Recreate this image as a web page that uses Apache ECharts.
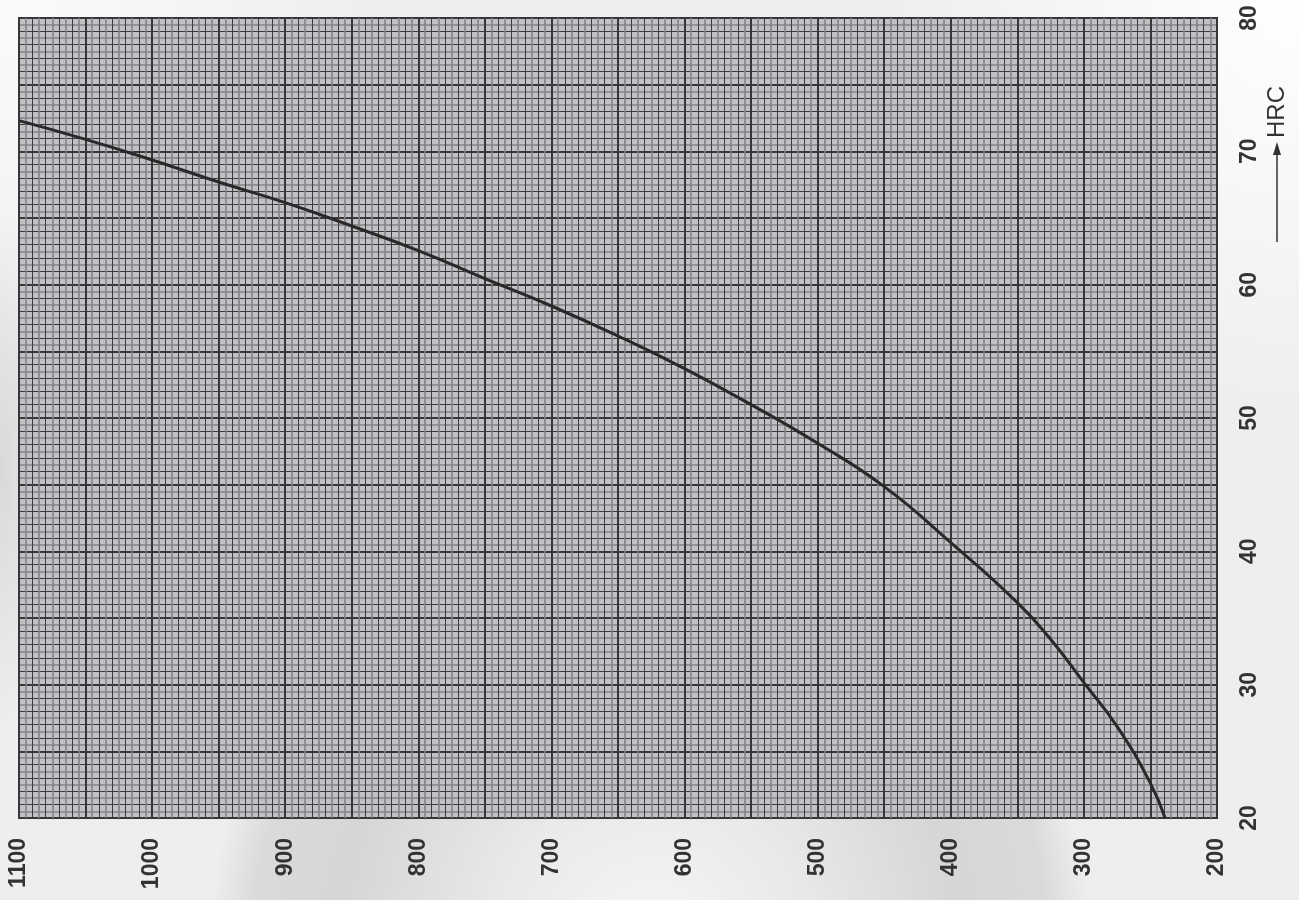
<!DOCTYPE html>
<html>
<head>
<meta charset="utf-8">
<script src="https://cdn.jsdelivr.net/npm/echarts@6/dist/echarts.min.js"></script>
<style>
  html, body { margin: 0; padding: 0; }
  body {
    width: 1299px; height: 900px; overflow: hidden;
    background:
      radial-gradient(circle 440px at 650px 940px, #f6f6f7 0%, #e9e9eb 35%, #d6d6d8 70%, #dadadc 90%, rgba(236,238,240,0) 100%),
      radial-gradient(ellipse 60px 260px at 0px 470px, #d9d9db 0%, rgba(217,217,219,0) 100%),
      radial-gradient(circle 420px at 1299px 0px, #ffffff 0%, rgba(255,255,255,0) 100%),
      radial-gradient(circle 380px at 0px 0px, #fbfbfb 0%, rgba(251,251,251,0) 100%),
      #eceef0;
  }
  #chart { width: 1299px; height: 900px; }
</style>
</head>
<body>
<div id="chart"></div>
<script>
// Vickers hardness (HV) on x, Rockwell C (HRC) on y
const hv  = [1100, 1050, 1000, 950, 900, 850, 800, 750, 700, 650, 600, 550, 500, 450, 400, 350, 325, 300, 275, 250, 239];
const hrc = [72.3, 70.9, 69.35, 67.7, 66.15, 64.4, 62.55, 60.45, 58.4, 56.15, 53.7, 51.0, 48.1, 44.85, 40.65, 36.15, 33.4, 30.15, 26.85, 22.6, 20.0];

const hvLabels  = [1100, 1000, 900, 800, 700, 600, 500, 400, 300, 200];
const hrcLabels = [20, 30, 40, 50, 60, 70, 80];

const COLORS = {
  plot:  '#c0c1c5',
  minor: '#838387',
  fine:  '#3e3a3c',
  major: '#3a3638',
  curve: '#2c282a',
  text:  '#333333',
};

const FONT = '"Liberation Sans", Arial, sans-serif';

const chart = echarts.init(document.getElementById('chart'), null, { renderer: 'canvas' });

const hidden = { axisLine: { show: false }, axisTick: { show: false }, axisLabel: { show: false } };

const option = {
  backgroundColor: 'transparent',
  animation: false,
  grid: {
    left: 19, right: 82, top: 18, bottom: 82,
    show: true,
    backgroundColor: COLORS.plot,
    borderColor: COLORS.major,
    borderWidth: 2,
  },
  xAxis: [
    {
      type: 'value', min: 200, max: 1100, interval: 10, inverse: true, ...hidden,
      splitLine: { show: false },
      minorTick: { show: false, splitNumber: 2 },
      minorSplitLine: { show: true, lineStyle: { color: COLORS.minor, width: 1.6 } },
    },
    {
      type: 'value', min: 200, max: 1100, interval: 10, inverse: true, ...hidden,
      splitLine: { show: true, lineStyle: { color: COLORS.fine, width: 1 } },
    },
    {
      type: 'value', min: 200, max: 1100, interval: 50, inverse: true, position: 'bottom',
      axisLine: { show: false },
      axisTick: { show: false },
      splitLine: { show: true, lineStyle: { color: COLORS.major, width: 2 } },
      axisLabel: {
        rotate: 90,
        margin: 20,
        color: COLORS.text,
        fontFamily: FONT,
        fontWeight: 'bold',
        fontSize: 23,
        formatter: (v) => (hvLabels.includes(v) ? String(v) : ''),
      },
    },
  ],
  yAxis: [
    {
      type: 'value', min: 20, max: 80, interval: 1, ...hidden,
      splitLine: { show: false },
      minorTick: { show: false, splitNumber: 2 },
      minorSplitLine: { show: true, lineStyle: { color: COLORS.minor, width: 1.6 } },
    },
    {
      type: 'value', min: 20, max: 80, interval: 1, ...hidden,
      splitLine: { show: true, lineStyle: { color: COLORS.fine, width: 1 } },
    },
    {
      type: 'value', min: 20, max: 80, interval: 5, position: 'right',
      axisLine: { show: false },
      axisTick: { show: false },
      splitLine: { show: true, lineStyle: { color: COLORS.major, width: 2 } },
      axisLabel: {
        rotate: 90,
        margin: 21,
        color: COLORS.text,
        fontFamily: FONT,
        fontWeight: 'bold',
        fontSize: 23,
        formatter: (v) => (hrcLabels.includes(v) ? String(v) : ''),
      },
    },
  ],
  graphic: [
    {
      type: 'group',
      x: 1277, y: 242,
      rotation: Math.PI / 2,
      children: [
        { type: 'line', shape: { x1: 0, y1: 0, x2: 90, y2: 0 }, style: { stroke: COLORS.text, lineWidth: 1.5 } },
        { type: 'polygon', shape: { points: [[100, 0], [87, -4], [87, 4]] }, style: { fill: COLORS.text } },
        {
          type: 'text', x: 104, y: 0,
          style: { text: 'HRC', fill: COLORS.text, font: '24px ' + FONT, textAlign: 'left', textVerticalAlign: 'middle' },
        },
      ],
    },
  ],
  series: [
    {
      name: 'HRC',
      type: 'line',
      xAxisIndex: 2,
      yAxisIndex: 2,
      smooth: 0.5,
      symbol: 'none',
      data: hv.map((v, i) => [v, hrc[i]]),
      lineStyle: { color: COLORS.curve, width: 3 },
      z: 10,
    },
  ],
};

chart.setOption(option);
</script>
</body>
</html>
